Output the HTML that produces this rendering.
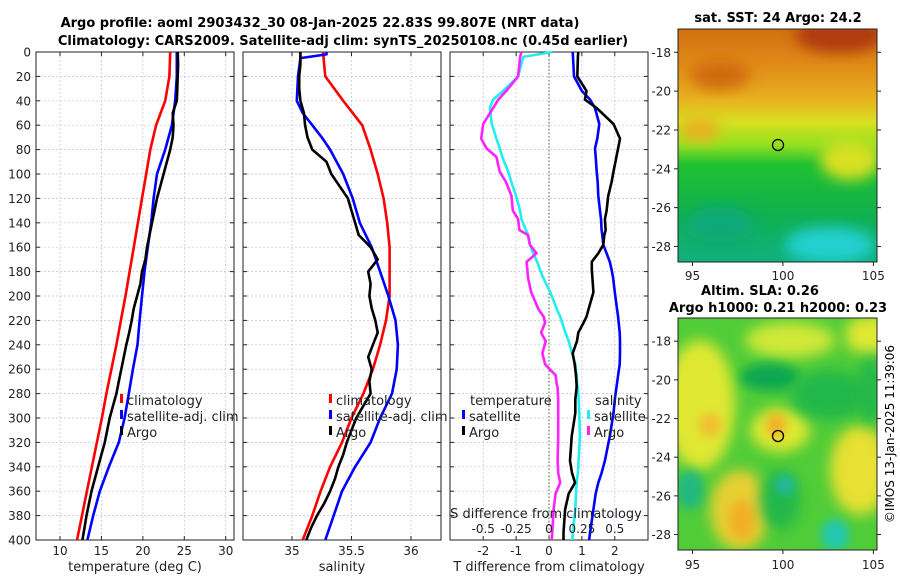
<!DOCTYPE html>
<html><head><meta charset="utf-8"><style>
html,body{margin:0;padding:0;background:#fff;}
svg{display:block;font-family:"DejaVu Sans","Liberation Sans",sans-serif;}
</style></head><body>
<svg id="fig" width="900" height="580" viewBox="0 0 900 580" xmlns="http://www.w3.org/2000/svg">
<defs>
<filter id="blur6" x="-30%" y="-30%" width="160%" height="160%"><feGaussianBlur stdDeviation="7"/></filter>
<filter id="blur4" x="-30%" y="-30%" width="160%" height="160%"><feGaussianBlur stdDeviation="5"/></filter>
<clipPath id="c1"><rect x="678" y="29" width="199" height="233"/></clipPath>
<clipPath id="c2"><rect x="678" y="318" width="199" height="232"/></clipPath>
<linearGradient id="sstg" x1="0" y1="0" x2="0" y2="1">
<stop offset="0" stop-color="#d07010"/><stop offset="0.15" stop-color="#e08a18"/><stop offset="0.3" stop-color="#e8b020"/>
<stop offset="0.4" stop-color="#d8e020"/><stop offset="0.5" stop-color="#90e020"/><stop offset="0.58" stop-color="#20c030"/>
<stop offset="0.8" stop-color="#10b050"/><stop offset="1" stop-color="#10b080"/></linearGradient>
</defs>
<g id="titles">
<text x="320" y="27" text-anchor="middle" font-size="13" font-weight="bold">Argo profile: aoml 2903432_30 08-Jan-2025 22.83S 99.807E (NRT data)</text>
<text x="343" y="45" text-anchor="middle" font-size="13" font-weight="bold">Climatology: CARS2009. Satellite-adj clim: synTS_20250108.nc (0.45d earlier)</text>
</g>
<g id="map1">
<text x="778" y="22" text-anchor="middle" font-size="13" font-weight="bold">sat. SST: 24 Argo: 24.2</text>
<g clip-path="url(#c1)">
<rect x="678" y="29" width="199" height="233" fill="url(#sstg)"/>
<ellipse cx="840" cy="35" rx="45" ry="18" fill="#b03a08" filter="url(#blur6)"/>
<ellipse cx="720" cy="75" rx="30" ry="15" fill="#d06a10" filter="url(#blur6)"/>
<ellipse cx="850" cy="160" rx="30" ry="20" fill="#d8e020" filter="url(#blur6)"/>
<ellipse cx="700" cy="130" rx="20" ry="12" fill="#e8b020" filter="url(#blur6)"/>
<ellipse cx="830" cy="245" rx="45" ry="18" fill="#20d0d0" filter="url(#blur6)"/>
<ellipse cx="720" cy="225" rx="35" ry="18" fill="#10a878" filter="url(#blur6)"/>
</g>
<rect x="678" y="29" width="199" height="233" fill="none" stroke="#222" stroke-width="1"/>
<circle cx="778" cy="145" r="5.5" fill="none" stroke="#000" stroke-width="1.3"/>
</g>
<g id="map2">
<text x="760" y="295" text-anchor="middle" font-size="13" font-weight="bold">Altim. SLA: 0.26</text>
<text x="778" y="312" text-anchor="middle" font-size="13" font-weight="bold">Argo h1000: 0.21 h2000: 0.23</text>
<g clip-path="url(#c2)">
<rect x="678" y="318" width="199" height="232" fill="#50cc38"/>
<ellipse cx="700" cy="405" rx="35" ry="65" fill="#e0e830" filter="url(#blur6)"/>
<ellipse cx="790" cy="340" rx="45" ry="18" fill="#d0e838" filter="url(#blur6)"/>
<ellipse cx="870" cy="335" rx="25" ry="20" fill="#e0e830" filter="url(#blur6)"/>
<ellipse cx="780" cy="430" rx="30" ry="22" fill="#e0e830" filter="url(#blur6)"/>
<ellipse cx="740" cy="510" rx="30" ry="40" fill="#e8d030" filter="url(#blur6)"/>
<ellipse cx="742" cy="520" rx="14" ry="20" fill="#f0b028" filter="url(#blur4)"/>
<ellipse cx="860" cy="470" rx="30" ry="45" fill="#e8e030" filter="url(#blur6)"/>
<ellipse cx="776" cy="425" rx="10" ry="12" fill="#f0b028" filter="url(#blur4)"/>
<ellipse cx="710" cy="425" rx="12" ry="12" fill="#f0c030" filter="url(#blur4)"/>
<ellipse cx="770" cy="377" rx="30" ry="14" fill="#10a850" filter="url(#blur4)"/>
<ellipse cx="830" cy="395" rx="40" ry="25" fill="#20b848" filter="url(#blur6)"/>
<ellipse cx="870" cy="390" rx="12" ry="35" fill="#20b848" filter="url(#blur6)"/>
<ellipse cx="690" cy="490" rx="14" ry="20" fill="#20b880" filter="url(#blur4)"/>
<ellipse cx="780" cy="500" rx="20" ry="30" fill="#20b848" filter="url(#blur6)"/>
<ellipse cx="785" cy="485" rx="10" ry="10" fill="#20b8a0" filter="url(#blur4)"/>
<ellipse cx="835" cy="535" rx="14" ry="16" fill="#20c8b0" filter="url(#blur4)"/>
</g>
<rect x="678" y="318" width="199" height="232" fill="none" stroke="#222" stroke-width="1"/>
<circle cx="778" cy="436" r="5.5" fill="none" stroke="#000" stroke-width="1.3"/>
<text transform="translate(894,434) rotate(-90)" text-anchor="middle" font-size="12">©IMOS 13-Jan-2025 11:39:06</text>
</g>
</svg>
<script>
// ---- data ----
const depths = [0,20,40,60,80,100,120,140,160,180,200,220,240,260,280,300,320,340,360,380,400];
const tempClim = [23.3,23.2,22.7,21.6,20.9,20.4,19.9,19.4,18.9,18.4,17.9,17.35,16.8,16.2,15.6,15.05,14.45,13.85,13.25,12.65,12.05];
const tempSat  = [24.1,24.1,23.9,23.5,22.7,21.7,21.3,21.0,20.6,20.2,19.9,19.6,19.35,18.8,18.3,17.8,17.1,15.9,14.8,14.0,13.3];
const argoDepths = [0,10,20,30,40,50,60,70,80,90,100,110,120,130,140,150,160,170,180,190,200,210,220,230,240,250,260,270,280,290,300,310,320,330,340,350,360,370,380,390,400];
const tempArgo = [24.2,24.25,24.2,24.15,24.1,23.6,23.7,23.6,23.3,22.9,22.5,22.1,21.7,21.4,21.1,20.8,20.5,20.3,19.9,19.7,19.3,18.9,18.65,18.35,18.0,17.7,17.4,17.1,16.8,16.4,16.0,15.7,15.4,15.0,14.6,14.2,13.8,13.5,13.2,12.95,12.7];
const salClim = [35.26,35.28,35.43,35.59,35.66,35.72,35.77,35.80,35.82,35.82,35.82,35.79,35.74,35.68,35.6,35.5,35.42,35.32,35.24,35.17,35.09];
const salSatDepths = [0,2,5,20,40,50,60,70,80,100,120,140,160,180,200,220,240,260,280,300,320,340,360,380,400];
const salSat = [35.29,35.29,35.07,35.05,35.04,35.09,35.17,35.25,35.32,35.43,35.51,35.57,35.67,35.74,35.81,35.87,35.89,35.88,35.84,35.74,35.66,35.53,35.42,35.35,35.28];
const salArgo = [35.07,35.07,35.06,35.06,35.07,35.10,35.11,35.13,35.17,35.29,35.33,35.40,35.47,35.50,35.53,35.56,35.66,35.72,35.64,35.66,35.65,35.67,35.70,35.72,35.68,35.64,35.67,35.65,35.66,35.60,35.54,35.50,35.46,35.43,35.39,35.36,35.32,35.27,35.21,35.16,35.12];
const dDepths = [0,4,20,32,39,46,59,71,79,86,98,107,118,130,137,146,150,158,165,172,178,185,197,211,217,222,230,237,247,256,265,273,275,285,296,315,335,345,353,362,375,394,400];
const dTempSat = [0.72,0.73,0.76,1.0,1.25,1.4,1.53,1.47,1.40,1.42,1.45,1.48,1.5,1.55,1.58,1.6,1.62,1.65,1.75,1.85,1.9,1.95,2.0,2.07,2.1,2.12,2.15,2.16,2.16,2.15,2.1,2.06,2.05,2.0,1.96,1.85,1.70,1.6,1.50,1.42,1.35,1.25,1.22];
const dTempArgo = [0.89,0.88,0.86,1.14,1.09,1.45,1.96,2.16,2.1,2.05,1.96,1.9,1.8,1.75,1.70,1.72,1.68,1.65,1.5,1.30,1.30,1.32,1.35,1.2,1.14,1.05,0.89,0.85,0.72,0.78,0.82,0.84,0.84,0.8,0.80,0.69,0.64,0.7,0.79,0.6,0.49,0.44,0.44];
const dSalSat = [0.025,-0.195,-0.235,-0.35,-0.425,-0.45,-0.435,-0.4,-0.375,-0.355,-0.31,-0.285,-0.25,-0.22,-0.21,-0.175,-0.16,-0.145,-0.12,-0.09,-0.07,-0.045,0.01,0.06,0.085,0.1,0.125,0.15,0.175,0.2,0.21,0.215,0.22,0.225,0.23,0.235,0.225,0.22,0.21,0.205,0.2,0.18,0.178];
const dSalArgo = [-0.21,-0.22,-0.235,-0.325,-0.385,-0.425,-0.5,-0.515,-0.475,-0.4,-0.375,-0.325,-0.285,-0.275,-0.235,-0.225,-0.16,-0.145,-0.095,-0.17,-0.165,-0.16,-0.135,-0.08,-0.04,-0.03,-0.06,-0.025,-0.05,-0.03,0.05,0.06,0.065,0.07,0.07,0.07,0.065,0.07,0.085,0.05,0.035,0.025,0.02];
const depthTicks = [0,20,40,60,80,100,120,140,160,180,200,220,240,260,280,300,320,340,360,380,400];
const tempTicks = [10,15,20,25,30];
const salTicks = [35,35.5,36];
const dTTicks = [-2,-1,0,1,2];
const dSTicks = [-0.5,-0.25,0,0.25,0.5];
const latTicks = [-18,-20,-22,-24,-26,-28];
const lonTicks = [95,100,105];

const NS="http://www.w3.org/2000/svg";
const svg=document.getElementById('fig');
function mk(tag,attrs,parent){const e=document.createElementNS(NS,tag);for(const k in attrs)e.setAttribute(k,attrs[k]);(parent||svg).appendChild(e);return e;}
const Y0=52,Y1=540;
const yD=d=>Y0+(Y1-Y0)*d/400;
function lin(d0,d1,r0,r1){return v=>r0+(v-d0)*(r1-r0)/(d1-d0);}
const panels=[
 {x0:36,x1:234,sx:lin(7.1,31,36,234),ticks:tempTicks,name:'temperature-panel',label:'temperature (deg C)'},
 {x0:243,x1:441,sx:lin(34.588,36.252,243,441),ticks:salTicks,name:'salinity-panel',label:'salinity'},
 {x0:450,x1:648,sx:lin(-3.01,3.01,450,648),ticks:dTTicks,name:'difference-panel',label:'T difference from climatology'}];
panels.forEach((p,pi)=>{
 const g=mk('g',{});
 
 
 depthTicks.forEach(d=>{const l=mk('line',{x1:p.x0,x2:p.x1,y1:yD(d),y2:yD(d),stroke:'#b8c4e8','stroke-width':0.7,'stroke-dasharray':'2,2'},g);
  });
 p.ticks.forEach(t=>{const x=p.sx(t);const l=mk('line',{x1:x,x2:x,y1:Y0,y2:Y1,stroke:'#b8c4e8','stroke-width':0.7,'stroke-dasharray':'2,2'},g);
  
  mk('line',{x1:x,x2:x,y1:Y1,y2:Y1-4,stroke:'#222'},g);mk('line',{x1:x,x2:x,y1:Y0,y2:Y0+4,stroke:'#222'},g);
  const tx=mk('text',{x:x,y:555,'text-anchor':'middle','font-size':12,fill:'#222'},g);tx.textContent=String(t);
  });
 depthTicks.forEach(d=>{mk('line',{x1:p.x0,x2:p.x0+4,y1:yD(d),y2:yD(d),stroke:'#222'},g);mk('line',{x1:p.x1,x2:p.x1-4,y1:yD(d),y2:yD(d),stroke:'#222'},g);});
 mk('rect',{x:p.x0,y:Y0,width:p.x1-p.x0,height:Y1-Y0,fill:'none',stroke:'#222','stroke-width':1},g);
 const xl=mk('text',{x:(p.x0+p.x1)/2,y:571,'text-anchor':'middle','font-size':13,fill:'#222'},g);xl.textContent=p.label;
 
});
depthTicks.forEach(d=>{const t=mk('text',{x:31,y:yD(d)+4.5,'text-anchor':'end','font-size':12,fill:'#222'});t.textContent=String(d);
 });
const zl=mk('line',{x1:panels[2].sx(0),x2:panels[2].sx(0),y1:Y0,y2:Y1,stroke:'#556b2f','stroke-width':1,'stroke-dasharray':'1.5,2'});

function line(xs,ds,sx,color,name){const pts=xs.map((v,i)=>sx(v).toFixed(1)+','+yD(ds[i]).toFixed(1)).join(' ');
 const e=mk('polyline',{points:pts,fill:'none',stroke:color,'stroke-width':2.6,'stroke-linejoin':'round'});
 }
line(tempClim,depths,panels[0].sx,'#ff0000','temp-climatology-line');
line(tempSat,depths,panels[0].sx,'#0000ff','temp-satellite-line');
line(tempArgo,argoDepths,panels[0].sx,'#000','temp-argo-line');
line(salClim,depths,panels[1].sx,'#ff0000','sal-climatology-line');
line(salSat,salSatDepths,panels[1].sx,'#0000ff','sal-satellite-line');
line(salArgo,argoDepths,panels[1].sx,'#000','sal-argo-line');
const sS=lin(-0.7525,0.7525,450,648);
line(dSalSat,dDepths,sS,'#22eeee','dsal-satellite-line');
line(dSalArgo,dDepths,sS,'#ff22ff','dsal-argo-line');
line(dTempSat,dDepths,panels[2].sx,'#0000ff','dtemp-satellite-line');
line(dTempArgo,dDepths,panels[2].sx,'#000','dtemp-argo-line');
const st=mk('text',{x:546,y:518,'text-anchor':'middle','font-size':13,fill:'#222'});st.textContent='S difference from climatology';

dSTicks.forEach(t=>{const e=mk('text',{x:sS(t),y:533,'text-anchor':'middle','font-size':12,fill:'#222'});e.textContent=String(t);
 });
function leg(x,y,color,label){const g=mk('g',{});
 
 mk('rect',{x:x,y:y-11,width:3,height:9,fill:color},g);
 const t=mk('text',{x:x+7,y:y,'font-size':13,fill:'#222'},g);t.textContent=label;}
leg(120,405,'#ff0000','climatology');leg(120,421,'#0000ff','satellite-adj. clim');leg(120,437,'#000','Argo');
leg(329,405,'#ff0000','climatology');leg(329,421,'#0000ff','satellite-adj. clim');leg(329,437,'#000','Argo');
const lt=mk('text',{x:470,y:405,'font-size':13,fill:'#222'});lt.textContent='temperature';
const ls=mk('text',{x:595,y:405,'font-size':13,fill:'#222'});ls.textContent='salinity';
leg(462,421,'#0000ff','satellite');leg(462,437,'#000','Argo');
leg(587,421,'#22eeee','satellite');leg(587,437,'#ff22ff','Argo');
function mapAxes(top,h,bottomLabelY){const lat=lin(-16.8,-28.8,top,top+h);const lon=lin(94.2,105.2,678,877);
 latTicks.forEach(v=>{const y=lat(v);mk('line',{x1:678,x2:674,y1:y,y2:y,stroke:'#222'});mk('line',{x1:877,x2:881,y1:y,y2:y,stroke:'#222'});
  const t=mk('text',{x:671,y:y+4.5,'text-anchor':'end','font-size':12,fill:'#222'});t.textContent=String(v);
  });
 lonTicks.forEach(v=>{const x=lon(v);mk('line',{x1:x,x2:x,y1:top+h,y2:top+h+4,stroke:'#222'});
  const t=mk('text',{x:x,y:bottomLabelY,'text-anchor':'middle','font-size':12,fill:'#222'});t.textContent=String(v);
  });}
mapAxes(29,233,280);mapAxes(318,232,569);
</script>
</body></html>
